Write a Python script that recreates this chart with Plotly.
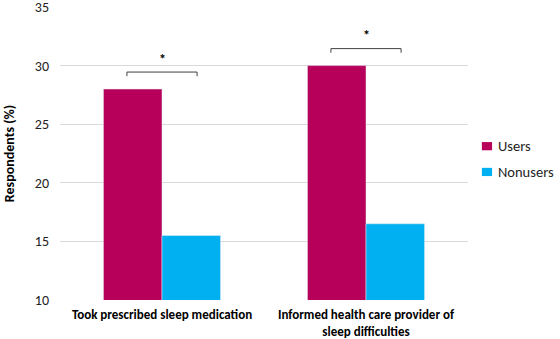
import plotly.graph_objects as go

categories = ["<b>Took prescribed sleep medication</b>", "<b>Informed health care provider of<br>sleep difficulties</b>"]
series_names = ["Users", "Nonusers"]
users = [28.0, 30.0]
nonusers = [15.5, 16.5]
significance = ["*", "*"]
colors = ["#B7005A", "#00B0F0"]

FONT = "Carlito, Lato, 'Liberation Sans', sans-serif"

fig = go.Figure()
for name, vals, col in zip(series_names, [users, nonusers], colors):
    fig.add_trace(go.Bar(name=name, x=categories, y=vals, marker_color=col, showlegend=False))

shapes = []
annotations = []
for i, cat in enumerate(categories):
    top = max(users[i], nonusers[i]) + 1.45
    half = 0.172
    shapes.append(dict(type="path", xref="x", yref="y",
                       path=f"M {i-half},{top-0.35} L {i-half},{top} L {i+half},{top} L {i+half},{top-0.35}",
                       line=dict(color="#404040", width=1)))
    annotations.append(dict(x=i, y=top + 0.2, xref="x", yref="y", text=f"<b>{significance[i]}</b>",
                            showarrow=False, yanchor="bottom", font=dict(size=14, color="#000", family=FONT)))

# custom legend (tight symbol-text spacing as in the reference)
leg_y = [0.525, 0.437]
for name, col, yy in zip(series_names, colors, leg_y):
    shapes.append(dict(type="rect", xref="paper", yref="paper",
                       x0=1.034, x1=1.059, y0=yy - 0.014, y1=yy + 0.014,
                       fillcolor=col, line=dict(width=0)))
    annotations.append(dict(x=1.068, y=yy, xref="paper", yref="paper", text=name,
                            showarrow=False, xanchor="left", yanchor="middle",
                            font=dict(size=14.5, color="#222", family=FONT)))

fig.update_layout(
    width=560, height=339,
    margin=dict(l=60, r=92, t=7, b=39, autoexpand=False),
    paper_bgcolor="white", plot_bgcolor="white",
    barmode="group", bargap=0.426, bargroupgap=0,
    font=dict(family=FONT, color="#000"),
    showlegend=False,
    shapes=shapes, annotations=annotations,
    xaxis=dict(tickfont=dict(size=13, color="#000", family=FONT), showgrid=False,
               showline=False, ticks="", ticklabelstandoff=5),
    yaxis=dict(range=[10, 35], dtick=5, showgrid=True, gridcolor="#d9d9d9", gridwidth=1,
               zeroline=False, showline=False, ticklabeloverflow="allow", ticklabelstandoff=10,
               tickfont=dict(size=14, color="#222"),
               title=dict(text="<b>Respondents (%)</b>", font=dict(size=14, color="#000"), standoff=16)),
)
fig.write_html("out.html")
